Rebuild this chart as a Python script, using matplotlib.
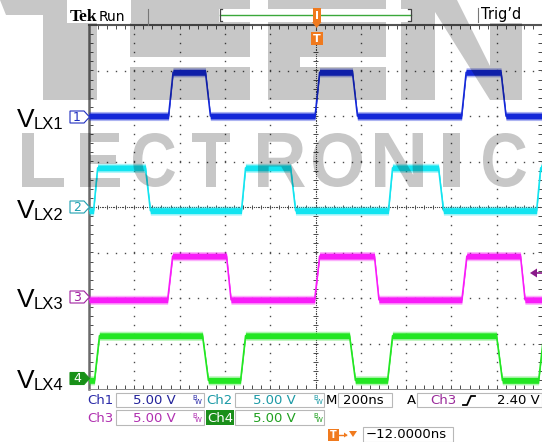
import matplotlib
matplotlib.use("Agg")
import matplotlib.pyplot as plt
import numpy as np
from matplotlib.patches import Polygon, Rectangle, PathPatch
from matplotlib.textpath import TextPath
from matplotlib.font_manager import FontProperties
from matplotlib.transforms import Affine2D
from matplotlib.lines import Line2D
from matplotlib.collections import LineCollection

# ---------------- data ----------------
time_per_div_ns = 200
volts_per_div = 5.0

ch1_rise_ns = [-649, -2, 645]
ch1_fall_ns = [-486, 163, 819]
ch1_low_high_v = [0.0, 4.8]
ch1_offset_div = 2.0
ch1_edge_ns = [20, 22]          # rise / fall time

ch2_rise_ns = [-980, -327, 322, 976]
ch2_fall_ns = [-751, -110, 543]
ch2_low_high_v = [-0.4, 4.3]
ch2_offset_div = 0.0
ch2_edge_ns = [18, 22]

ch3_rise_ns = [-653, -4, 646]
ch3_fall_ns = [-393, 260, 905]
ch3_low_high_v = [-0.2, 4.6]
ch3_offset_div = -2.0
ch3_edge_ns = [22, 20]

ch4_rise_ns = [-976, -331, 318, 985]
ch4_fall_ns = [-499, 150, 799]
ch4_low_high_v = [-0.2, 4.7]
ch4_offset_div = -3.77
ch4_edge_ns = [22, 26]

channel_labels = ["LX1", "LX2", "LX3", "LX4"]
channel_colors = ["#1428d8", "#12e4f0", "#f81cf8", "#22e622"]

status_row1 = ["Ch1", "5.00 V", "Ch2", "5.00 V", "M", "200ns", "A", "Ch3", "2.40 V"]
status_row2 = ["Ch3", "5.00 V", "Ch4", "5.00 V"]
trigger_offset_text = "\u221212.0000ns"

# ---------------- figure helpers ----------------
W, H = 542, 442
fig = plt.figure(figsize=(W / 100, H / 100), dpi=100)
fig.patch.set_facecolor("white")


def fx(x):
    return x / W


def fy(y):
    return 1 - y / H


def frect(x0, y0, x1, y1, **kw):
    r = Rectangle((fx(x0), fy(y1)), (x1 - x0) / W, (y1 - y0) / H,
                  transform=fig.transFigure, **kw)
    fig.add_artist(r)
    return r


def fpoly(pts, **kw):
    p = Polygon([(fx(a), fy(b)) for a, b in pts], closed=True,
                transform=fig.transFigure, **kw)
    fig.add_artist(p)
    return p


def fline(xs, ys, **kw):
    fig.add_artist(Line2D([fx(a) for a in xs], [fy(b) for b in ys],
                          transform=fig.transFigure, **kw))


def ftext(x, y, s, **kw):
    return fig.text(fx(x), fy(y), s, **kw)


# ---------------- scope graticule ----------------
ax = fig.add_axes([fx(89), fy(389), (542 - 89) / W, (389 - 25) / H])
xmax = 5 * time_per_div_ns
ax.set_xlim(-xmax, xmax)
ax.set_ylim(-4, 4)
ax.set_xticks([])
ax.set_yticks([])
ax.set_facecolor("white")
for side, col, lw in [("left", "#6a6a6a", 1.8), ("top", "#555555", 1.5),
                      ("right", "#8a8a8a", 0.7), ("bottom", "#8a8a8a", 0.7)]:
    ax.spines[side].set_color(col)
    ax.spines[side].set_linewidth(lw)

dot_col = "#4a4a4a"
gx_lines = [k * time_per_div_ns for k in range(-4, 5) if k != 0]
gy_lines = [k for k in range(-3, 4) if k != 0]
ys_dots = np.arange(-4, 4.001, 0.2)
xs_dots = np.arange(-xmax, xmax + 1, time_per_div_ns / 5)
for gx in gx_lines:
    ax.plot(np.full_like(ys_dots, gx), ys_dots, ls="none", marker="s",
            ms=1.0, mew=0, color=dot_col, zorder=2)
for gy in gy_lines:
    ax.plot(xs_dots, np.full_like(xs_dots, gy), ls="none", marker="s",
            ms=1.0, mew=0, color=dot_col, zorder=2)
# center cross, finer dotting + ticks
ys_fine = np.arange(-4, 4.001, 0.04)
xs_fine = np.arange(-xmax, xmax + 1, time_per_div_ns / 25)
ax.plot(np.zeros_like(ys_fine), ys_fine, ls="none", marker="s", ms=0.8,
        mew=0, color=dot_col, zorder=2)
ax.plot(xs_fine, np.zeros_like(xs_fine), ls="none", marker="s", ms=0.8,
        mew=0, color=dot_col, zorder=2)
segs = []
tx = time_per_div_ns * 0.045
ty = 0.045
for y in ys_dots:
    segs.append([(-tx, y), (tx, y)])
    segs.append([(-xmax, y), (-xmax + 2 * tx, y)])
    segs.append([(xmax - 2 * tx, y), (xmax, y)])
for x in xs_dots:
    segs.append([(x, -ty), (x, ty)])
    segs.append([(x, 4), (x, 4 - 2 * ty)])
    segs.append([(x, -4), (x, -4 + 2 * ty)])
ax.add_collection(LineCollection(segs, colors=dot_col, linewidths=0.7, zorder=2))


# ---------------- traces ----------------
def waveform(rises, falls, lowhigh, offset, edge):
    ev = sorted([(t, 1) for t in rises] + [(t, 0) for t in falls])
    cur = 0 if ev[0][1] == 1 else 1
    ts, vs = [-xmax], [lowhigh[cur]]
    for t, new in ev:
        ts += [t, t + (edge[0] if new == 1 else edge[1])]
        vs += [lowhigh[cur], lowhigh[new]]
        cur = new
    ts.append(xmax + 50)
    vs.append(lowhigh[cur])
    return np.array(ts), offset + np.array(vs) / volts_per_div


chans = [
    (ch1_rise_ns, ch1_fall_ns, ch1_low_high_v, ch1_offset_div, ch1_edge_ns),
    (ch2_rise_ns, ch2_fall_ns, ch2_low_high_v, ch2_offset_div, ch2_edge_ns),
    (ch3_rise_ns, ch3_fall_ns, ch3_low_high_v, ch3_offset_div, ch3_edge_ns),
    (ch4_rise_ns, ch4_fall_ns, ch4_low_high_v, ch4_offset_div, ch4_edge_ns),
]
for (r, f, lh, off, ed), col in zip(chans, channel_colors):
    t, y = waveform(r, f, lh, off, ed)
    ax.fill_between(t, y - 0.1, y + 0.1, color=col, lw=0, alpha=0.35, zorder=3)
    ax.fill_between(t, y - 0.065, y + 0.065, color=col, lw=0, zorder=3)
    ax.plot(t, y, color=col, lw=1.1, zorder=3)

# trigger level marker (Ch3, 2.40 V) on right edge
fpoly([(530, 273), (537, 268.5), (537, 277.5)], facecolor="#8a1a8a",
      edgecolor="none", zorder=6)
fline([536, 542], [273, 273], color="#8a1a8a", lw=1.2, zorder=6)

# ---------------- watermark ----------------
wm = dict(facecolor="black", edgecolor="none", alpha=0.22, zorder=10)
fpoly([(0, 0), (97, 0), (97, 15), (6, 15)], **wm)
frect(43, 15, 97, 100, **wm)
frect(130, 0, 250, 57, **wm)
frect(130, 67, 250, 100, **wm)
frect(268, 0, 300, 100, **wm)
frect(300, 0, 386, 57, **wm)
frect(300, 67, 386, 100, **wm)
frect(401, 0, 435, 100, **wm)
frect(490, 0, 522, 100, **wm)
fpoly([(435, 0), (457, 0), (490, 66), (490, 100), (435, 12)], **wm)

fp_wm = FontProperties(family="Liberation Sans", weight="bold")
letters = [("L", 22, 64), ("E", 80, 120), ("C", 133, 175), ("T", 192, 230),
           ("R", 258, 305), ("O", 313, 362), ("N", 375, 423), ("I", 443, 460),
           ("C", 483, 526)]
for ch, x0, x1 in letters:
    tp = TextPath((0, 0), ch, size=100, prop=fp_wm)
    ext = tp.get_extents()
    sx = (x1 - x0) / ext.width
    sy = (187 - 133) / ext.height
    tr = (Affine2D().translate(-ext.x0, -ext.y0).scale(sx / W, sy / H)
          .translate(fx(x0), fy(187)) + fig.transFigure)
    fig.add_artist(PathPatch(tp, transform=tr, **wm))

# ---------------- top bar ----------------
frect(67, 0, 131, 22.5, facecolor="white", edgecolor="none", zorder=11)
ftext(70, 21, "Tek", fontfamily="Liberation Serif", fontweight="bold",
      fontsize=12.5, color="black", va="baseline", zorder=12)
ftext(99, 21, "Run", fontfamily="DejaVu Sans", fontsize=10, color="black",
      va="baseline", zorder=12)
fline([148, 148], [9, 25], color="#777777", lw=0.8, zorder=12)
frect(219, 9, 411, 22, facecolor="white", edgecolor="none", zorder=11)
fline([220, 411], [15, 15], color="#3aa83a", lw=1.0, zorder=12)
fline([222, 219.5, 219.5, 222], [9, 9, 21, 21], color="#444444", lw=0.9, zorder=12)
fline([408, 410.5, 410.5, 408], [9, 9, 21, 21], color="#444444", lw=0.9, zorder=12)
frect(478, 0, 522, 22.5, facecolor="white", edgecolor="none", zorder=11)
fline([478, 478], [8, 22], color="#777777", lw=0.8, zorder=12)
ftext(481, 15, "Trig\u2019d", fontfamily="DejaVu Sans", fontsize=10.5,
      color="black", va="center", zorder=12)
orange = "#f07a1e"
frect(313, 8, 320.5, 22, facecolor=orange, edgecolor="none", zorder=12)
frect(315.5, 11, 318, 19, facecolor="white", edgecolor="none", zorder=13)
fpoly([(312, 22), (321.5, 22), (316.7, 28)], facecolor=orange, edgecolor="none", zorder=12)
frect(311, 32, 322.5, 45, facecolor=orange, edgecolor="none", zorder=12)
ftext(316.8, 38.8, "T", fontfamily="DejaVu Sans", fontweight="bold", fontsize=8,
      color="white", ha="center", va="center", zorder=13)

# ---------------- channel labels & markers ----------------
label_y = [127, 218, 307, 388]
marker_y = [117, 207, 297, 378.5]
mk_edge = ["#2030c0", "#1ea0b0", "#a020a0", "#189018"]
mk_face = ["white", "white", "white", "#189018"]
mk_txt = ["#2030c0", "#1ea0b0", "#a020a0", "white"]
for i in range(4):
    ftext(17, label_y[i], "V", fontfamily="Liberation Sans", fontsize=19,
          color="black", va="baseline", zorder=12)
    ftext(34, label_y[i] + 2, channel_labels[i], fontfamily="Liberation Sans",
          fontsize=12, color="black", va="baseline", zorder=12)
    yc = marker_y[i]
    fpoly([(70, yc - 6), (84, yc - 6), (89.5, yc), (84, yc + 6), (70, yc + 6)],
          facecolor=mk_face[i], edgecolor=mk_edge[i], lw=0.8, zorder=12)
    ftext(77, yc + 0.5, str(i + 1), fontfamily="DejaVu Sans", fontsize=9,
          color=mk_txt[i], ha="center", va="center", zorder=13)

# ---------------- status area ----------------
box_kw = dict(facecolor="white", edgecolor="#b8b8b8", lw=0.8, zorder=5)
for (x0, y0, x1, y1) in [(116, 393, 204, 407), (235, 393, 324, 407),
                         (338, 393, 392, 407), (417, 393, 542, 407),
                         (116, 410, 204, 425), (235, 410, 324, 425),
                         (363, 427, 453, 442)]:
    frect(x0, y0, x1, y1, **box_kw)
frect(206, 410, 234, 425, facecolor="#1a8f1a", edgecolor="none", zorder=5)

st = dict(fontfamily="DejaVu Sans", fontsize=9.5, va="center", zorder=6)
c1, c2, c3, c4 = "#2a2aa8", "#1c9aa6", "#b030b0", "#20a020"
row1_specs = [(87, c1), (133, "#22229a"), (206, c2), (253, c2), (326, "black"),
              (343, "black"), (407, "black"), (430, "#9a2a9a"), (497, "black")]
for s, (x, col) in zip(status_row1, row1_specs):
    ftext(x, 400.5, s, color=col, **st)
row2_specs = [(87, c3), (133, c3), (207, "white"), (253, c4)]
for s, (x, col) in zip(status_row2, row2_specs):
    ftext(x, 418, s, color=col, **st)
for x, y, col in [(192, 400, c1), (313, 400, c2), (192, 418, c3), (313, 418, c4)]:
    ftext(x, y - 2.5, "B", color=col, fontfamily="DejaVu Sans", fontsize=5,
          va="center", zorder=6)
    ftext(x + 3, y + 2.5, "W", color=col, fontfamily="DejaVu Sans", fontsize=5,
          va="center", zorder=6)
fline([463, 467, 471, 475], [405, 405, 396, 396], color="black", lw=1.3, zorder=6)
# trigger offset row
frect(328, 429, 339, 441, facecolor=orange, edgecolor="none", zorder=6)
ftext(333.5, 435.3, "T", fontfamily="DejaVu Sans", fontweight="bold", fontsize=7,
      color="white", ha="center", va="center", zorder=7)
fline([339, 346], [435, 435], color=orange, lw=1.0, zorder=6)
fpoly([(344, 432.5), (347.5, 435), (344, 437.5)], facecolor=orange, edgecolor="none", zorder=6)
fpoly([(349, 431), (357, 431), (353, 437)], facecolor=orange, edgecolor="none", zorder=6)
ftext(366, 435, trigger_offset_text, color="black", **st)

fig.savefig("out.png", dpi=100, facecolor="white")
